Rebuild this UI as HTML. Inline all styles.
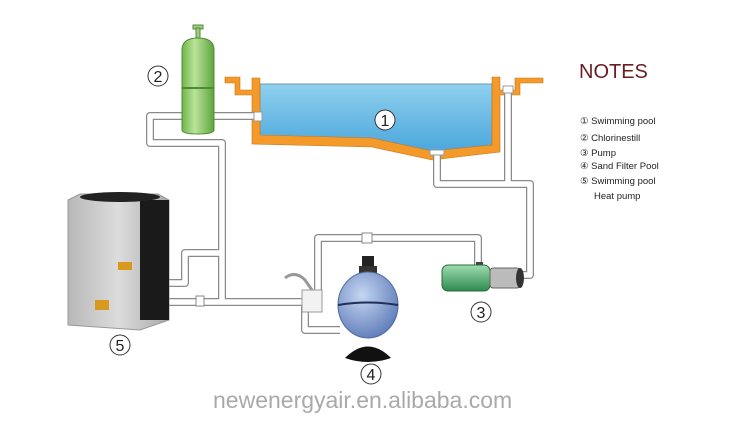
<!DOCTYPE html>
<html><head><meta charset="utf-8"><style>
html,body{margin:0;padding:0;background:#fff;}
svg{display:block;font-family:"Liberation Sans",Arial,sans-serif;}
</style></head><body>
<svg width="746" height="421" viewBox="0 0 746 421" xmlns="http://www.w3.org/2000/svg">
<defs>
<linearGradient id="water" x1="0" y1="0" x2="0" y2="1"><stop offset="0" stop-color="#8fd0ee"/><stop offset="1" stop-color="#4aa6dc"/></linearGradient>
<linearGradient id="green" x1="0" y1="0" x2="1" y2="0"><stop offset="0" stop-color="#6fb64a"/><stop offset="0.4" stop-color="#b9e39a"/><stop offset="1" stop-color="#5ea53c"/></linearGradient>
<radialGradient id="blue" cx="0.4" cy="0.35" r="0.7"><stop offset="0" stop-color="#c5d6f2"/><stop offset="1" stop-color="#5d7bb8"/></radialGradient>
<linearGradient id="silver" x1="0" y1="0" x2="1" y2="0"><stop offset="0" stop-color="#b8b8b8"/><stop offset="0.5" stop-color="#dcdcdc"/><stop offset="1" stop-color="#a9a9a9"/></linearGradient>
<linearGradient id="pgreen" x1="0" y1="0" x2="0" y2="1"><stop offset="0" stop-color="#9fdcb0"/><stop offset="1" stop-color="#2e8a4e"/></linearGradient>
</defs>
<path d="M260,84 L492,84 L492,147 L432,153 L372,140 L260,137 Z" fill="url(#water)" stroke="#6a9ab5" stroke-width="1"/>
<path d="M225,77 L240,77 L240,90 L252,90 L252,78 L260,78 L260,135 L372,138 L432,151 L492,145 L492,77 L500,77 L500,90 L515,90 L515,78 L543,78 L543,83 L520,83 L520,95 L500,95 L500,152 L432,160 L372,147 L252,144 L252,95 L235,95 L235,83 L225,83 Z" fill="#f39a2a" stroke="#c8751a" stroke-width="0.6"/>
<g fill="none" stroke="#8a8a8a" stroke-width="8" stroke-linejoin="round">
<path d="M255,116 L150,116 L150,143 L222,143 L222,290"/>
<path d="M437,152 L437,184 L530,184 L530,275 L520,275"/>
<path d="M508,88 L508,184"/>
<path d="M125,283 L185,283 L185,253 L222,253"/>
<path d="M125,302 L305,302"/>
<path d="M222,290 L222,302"/>
<path d="M318,290 L318,238 L478,238 L478,268"/>
<path d="M305,305 L305,330 L340,330"/>
</g>
<g fill="none" stroke="#fff" stroke-width="5.5" stroke-linejoin="round">
<path d="M255,116 L150,116 L150,143 L222,143 L222,290"/>
<path d="M437,152 L437,184 L530,184 L530,275 L520,275"/>
<path d="M508,88 L508,184"/>
<path d="M125,283 L185,283 L185,253 L222,253"/>
<path d="M125,302 L305,302"/>
<path d="M222,290 L222,302"/>
<path d="M318,290 L318,238 L478,238 L478,268"/>
<path d="M305,305 L305,330 L340,330"/>
</g>
<rect x="254" y="112" width="8" height="9" fill="#fff" stroke="#999"/>
<rect x="503" y="86" width="10" height="7" fill="#fff" stroke="#999"/>
<rect x="430" y="150" width="14" height="5" fill="#fff" stroke="#999"/>
<rect x="196" y="296" width="8" height="10" fill="#fff" stroke="#888"/>
<rect x="362" y="233" width="10" height="10" fill="#fff" stroke="#888"/>
<rect x="193" y="25" width="10" height="4" fill="#9ccf7c" stroke="#5a8a3e"/>
<rect x="196" y="28" width="4" height="10" fill="#9ccf7c" stroke="#5a8a3e"/>
<path d="M182,50 Q182,38 198,38 Q214,38 214,50 L214,130 Q214,134 198,134 Q182,134 182,130 Z" fill="url(#green)" stroke="#4f8a35"/>
<line x1="182" y1="88" x2="214" y2="88" stroke="#4f8a35" stroke-width="2"/>
<path d="M68,200 L80,194 L158,194 L169,200 L169,320 L140,330 L68,325 Z" fill="url(#silver)" stroke="#999"/>
<rect x="140" y="200" width="29" height="120" fill="#1a1a1a"/>
<ellipse cx="120" cy="197" rx="40" ry="5" fill="#222"/>
<rect x="118" y="262" width="14" height="8" fill="#d79a1e"/>
<rect x="95" y="300" width="14" height="10" fill="#d79a1e"/>
<path d="M285,278 Q295,270 305,280 L312,290" fill="none" stroke="#999" stroke-width="3"/>
<rect x="302" y="290" width="20" height="22" fill="#f2f2f2" stroke="#999"/>
<rect x="362" y="256" width="12" height="10" fill="#222"/>
<rect x="359" y="266" width="18" height="10" fill="#333"/>
<ellipse cx="368" cy="305" rx="30" ry="33" fill="url(#blue)" stroke="#4e6aa0"/>
<path d="M338,305 Q368,300 398,305" stroke="#1f2f55" stroke-width="2" fill="none"/>
<path d="M345,358 Q368,335 391,358 Q368,366 345,358 Z" fill="#111"/>
<rect x="476" y="262" width="7" height="8" fill="#444"/>
<rect x="442" y="265" width="48" height="26" rx="6" fill="url(#pgreen)" stroke="#2a6a3a"/>
<rect x="490" y="268" width="30" height="20" rx="3" fill="#bbb" stroke="#666"/>
<ellipse cx="520" cy="278" rx="4" ry="10" fill="#333"/>
<g font-size="16" text-anchor="middle" fill="#222">
<circle cx="385" cy="120" r="10" fill="#fff" stroke="#333"/><text x="385" y="126">1</text>
<circle cx="158" cy="76" r="10" fill="#fff" stroke="#333"/><text x="158" y="82">2</text>
<circle cx="481" cy="312" r="10" fill="#fff" stroke="#333"/><text x="481" y="318">3</text>
<circle cx="371" cy="374" r="10" fill="#fff" stroke="#333"/><text x="371" y="380">4</text>
<circle cx="120" cy="345" r="10" fill="#fff" stroke="#333"/><text x="120" y="351">5</text>
</g>
<text x="579" y="78" font-size="20" fill="#6b1d24">NOTES</text>
<g font-size="9.5" fill="#222">
<text x="580" y="124">① Swimming pool</text>
<text x="580" y="141">② Chlorinestill</text>
<text x="580" y="156">③ Pump</text>
<text x="580" y="169">④ Sand Filter Pool</text>
<text x="580" y="184">⑤ Swimming pool</text>
<text x="594" y="199">Heat pump</text>
</g>
<text x="213" y="408" font-size="23" fill="#a9a9a9">newenergyair.en.alibaba.com</text>
</svg>
</body></html>
